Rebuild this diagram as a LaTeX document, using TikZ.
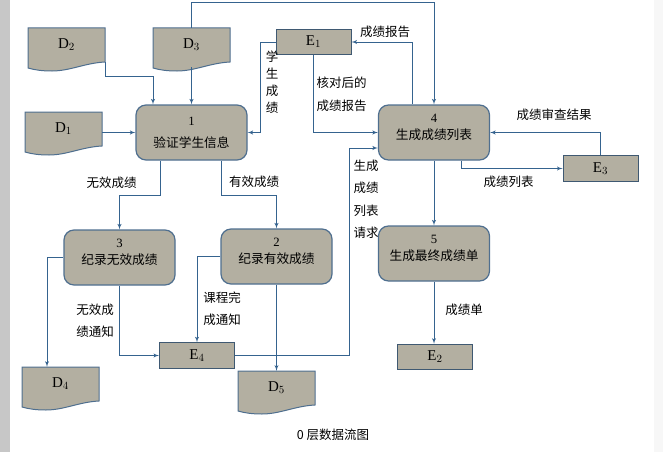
\documentclass[tikz,border=0pt]{standalone}
\usepackage{fontspec}
\setmainfont{Liberation Serif}
\newfontfamily\cjk{Noto Sans CJK SC}
\usetikzlibrary{arrows}
\usetikzlibrary{positioning}
\definecolor{bodygray}{HTML}{B3AFA1}
\definecolor{edgeblue}{HTML}{4F6F8F}
\definecolor{flowblue}{HTML}{35638F}
\tikzset{flow/.style = {draw=flowblue, line width=0.9pt, ->, >=latex'}}
\tikzset{proc/.style = {draw=edgeblue, fill=bodygray, line width=1.2pt, rounded corners=10pt,
                        minimum width=111pt, minimum height=55pt, inner sep=0, align=center,
                        font=\fontsize{12.7}{17}\selectfont}}
\tikzset{ext/.style = {draw=edgeblue!80!black, fill=bodygray, line width=1pt, minimum width=75pt,
                       minimum height=25.5pt, inner sep=0, font=\fontsize{15}{17}\selectfont}}
\tikzset{docbody/.style = {draw=edgeblue, fill=bodygray, line width=1pt}}
\tikzset{doc/.style = {minimum width=77pt, minimum height=34pt, inner sep=0, font=\fontsize{15}{17}\selectfont}}
\tikzset{lbl/.style = {inner sep=0, align=center, font=\cjk\fontsize{12.5}{22.5}\selectfont}}
\newcommand{\docnode}[4]{
    \draw [docbody, shift={(#2, #3)}] (0, 0) -- (77, 0) -- (77, 34)
        .. controls (57, 35) and (42, 43) .. (24, 43)
        .. controls (14, 43) and (7, 42) .. (0, 40) -- cycle;
    \node [doc] (#1) at (#2 + 38.5, #3 + 17) {#4};
}
\begin{document}
\begin{tikzpicture}[x=1pt, y=-1pt]
    \useasboundingbox (0, 0) rectangle (663, 452);
    \fill [black!22] (0, 0) rectangle (10, 452);
    \fill [black!3] (654, 0) rectangle (663, 452);

    \docnode{d1}{25}{112}{D$_1$}
    \docnode{d2}{28}{28}{D$_2$}
    \docnode{d3}{153}{28}{D$_3$}
    \docnode{d4}{22}{367}{D$_4$}
    \docnode{d5}{238}{371}{D$_5$}

    \node [ext] (e1) at (313.5, 42) {E$_1$};
    \node [ext] (e2) at (435, 357) {E$_2$};
    \node [ext] (e3) at (600.5, 168.5) {E$_3$};
    \node [ext] (e4) at (197, 355.5) {E$_4$};

    \node [proc] (p1) at (191.5, 132.5) {1\\[5pt]{\cjk 验证学生信息}};
    \node [proc, text depth=11pt] (p2) at (276.5, 256.5) {2\\{\cjk 纪录有效成绩}};
    \node [proc, text depth=11pt] (p3) at (119.5, 257.5) {3\\{\cjk 纪录无效成绩}};
    \node [proc, text depth=12pt] (p4) at (434, 132.5) {4\\{\cjk 生成成绩列表}};
    \node [proc, text depth=11pt] (p5) at (434, 253.5) {5\\{\cjk 生成最终成绩单}};

    \draw [flow] ([yshift=-3.5pt]d1.east) -- (p1.west);
    \draw [flow] (d2.south east) -- ++(0, 14) -| ([xshift=-38.5pt]p1.north);
    \draw [flow] ([yshift=-5pt]d3.south) -- (p1.north);
    \draw [flow] (d3.north) -- ++(0, -25) -| (p4.north);
    \draw [flow] (e1.west) -- ++(-15, 0) |- (p1.east);
    \draw [flow] (e1.south) |- (p4.west);
    \draw [flow] ([xshift=-21.5pt]p4.north) |- (e1.east);
    \draw [flow] (e3.north) |- (p4.east);
    \draw [flow] ([xshift=27pt]p4.south) |- (e3.west);
    \draw [flow] (p4.south) -- (p5.north);
    \draw [flow] (p5.south) -- (p5.south |- e2.north);
    \draw [flow] ([xshift=-31.5pt]p1.south) -- ++(0, 35) -| (p3.north);
    \draw [flow] ([xshift=29.5pt]p1.south) -- ++(0, 35) -| (p2.north);
    \draw [flow] (p3.west) -| ([xshift=-13.5pt]d4.north);
    \draw [flow] (p3.south) |- (e4.west);
    \draw [flow] (p2.west) -| (e4.north);
    \draw [flow] (p2.south) -- (d5.north);
    \draw [flow] (e4.east) -- ++(114, 0) |- ([yshift=-15.5pt]p4.west);

    \node [lbl, font=\cjk\fontsize{12.5}{17}\selectfont] (stu) at (272, 82) {学\\生\\成\\绩};
    \node [lbl] (chk) at (341.5, 94.5) {核对后的\\成绩报告};
    \node [lbl] (rep) at (385, 32) {成绩报告};
    \node [lbl] (rev) at (554, 115) {成绩审查结果};
    \node [lbl] (lst) at (508.5, 182) {成绩列表};
    \node [lbl] (req) at (366, 199.5) {生成\\成绩\\列表\\请求};
    \node [lbl] (bad) at (111.5, 183) {无效成绩};
    \node [lbl] (good) at (254, 182) {有效成绩};
    \node [lbl] (badn) at (95, 321) {无效成\\绩通知};
    \node [lbl] (done) at (222, 308.5) {课程完\\成通知};
    \node [lbl] (sheet) at (464, 310) {成绩单};
    \node [lbl] (cap) at (333, 435) {0 层数据流图};
\end{tikzpicture}
\end{document}
